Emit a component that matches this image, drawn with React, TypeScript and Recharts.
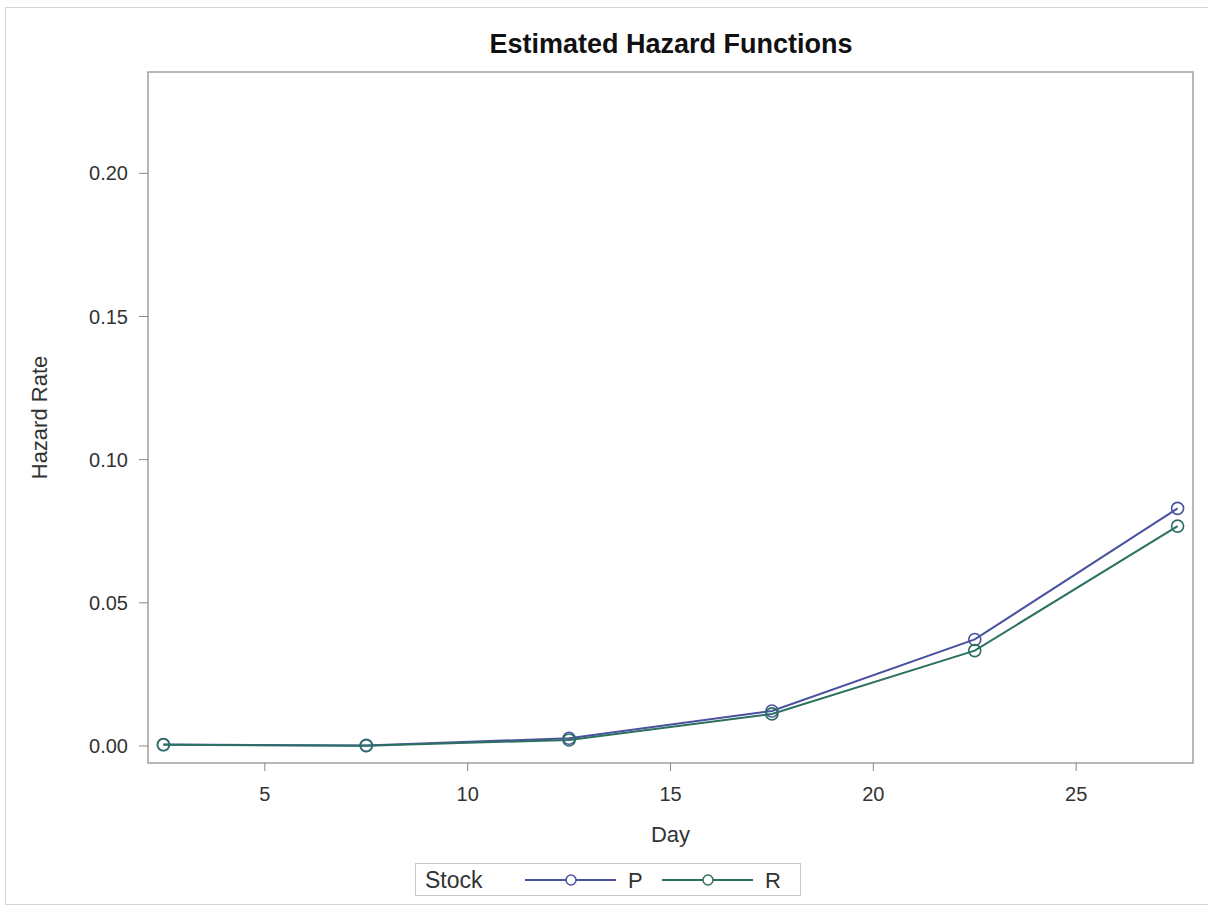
import React from "react";
import {
  LineChart,
  Line,
  XAxis,
  YAxis,
  Legend,
  ReferenceArea,
  Label,
} from "recharts";

const days = [2.5, 7.5, 12.5, 17.5, 22.5, 27.5];
const hazardP = [0.0005, 0.0002, 0.0027, 0.0122, 0.0372, 0.083];
const hazardR = [0.0004, 0.0001, 0.0021, 0.0112, 0.0333, 0.0768];
const xTicks = [5, 10, 15, 20, 25];
const yTicks = [0, 0.05, 0.1, 0.15, 0.2];
const seriesNames = ["P", "R"];
const seriesColors = ["#4a52a0", "#2b7060"];

const data = days.map((d, i) => ({ day: d, P: hazardP[i], R: hazardR[i] }));

const X_DOMAIN: [number, number] = [2.12, 27.88];
const Y_DOMAIN: [number, number] = [-0.00595, 0.2354];

const FONT = "'Liberation Sans', Arial, sans-serif";

const Dot = (props: any) => {
  const { cx, cy, stroke } = props;
  if (cx == null || cy == null) return null;
  return <circle cx={cx} cy={cy} r={6} fill="none" stroke={stroke} strokeWidth={1.6} />;
};

const LegendContent = () => {
  return (
    <svg width={386} height={33} style={{ display: "block" }}>
      <rect x={0.5} y={0.5} width={385} height={32} fill="#fff" stroke="#c8c8c8" />
      <text x={10} y={25} fontFamily={FONT} fontSize={23} fill="#333">Stock</text>
      {seriesNames.map((n, i) => {
        const x0 = 110 + i * 137;
        return (
          <g key={n}>
            <line x1={x0} x2={x0 + 91} y1={17} y2={17} stroke={seriesColors[i]} strokeWidth={2} />
            <circle cx={x0 + 46} cy={17} r={5} fill="#fff" stroke={seriesColors[i]} strokeWidth={1.5} />
            <text x={x0 + 103} y={25} fontFamily={FONT} fontSize={22} fill="#333">{n}</text>
          </g>
        );
      })}
    </svg>
  );
};

export default function App() {
  return (
    <div style={{ position: "absolute", left: 0, top: 0, width: 1208, height: 911, background: "#fff" }}>
      <div
        style={{
          position: "absolute",
          left: 5,
          top: 7,
          width: 1204,
          height: 898,
          border: "1px solid #d4d4d4",
          boxSizing: "border-box",
        }}
      />
      <div
        style={{
          position: "absolute",
          left: 0,
          top: 29,
          width: 1342,
          textAlign: "center",
          fontFamily: FONT,
          fontWeight: "bold",
          fontSize: 27,
          lineHeight: "31px",
          color: "#111",
        }}
      >
        Estimated Hazard Functions
      </div>
      <div style={{ position: "absolute", left: 0, top: 0 }}>
        <LineChart
          width={1208}
          height={911}
          data={data}
          margin={{ top: 72, right: 15, left: 0, bottom: 0 }}
        >
          <ReferenceArea
            x1={X_DOMAIN[0]}
            x2={X_DOMAIN[1]}
            y1={Y_DOMAIN[0]}
            y2={Y_DOMAIN[1]}
            fill="none"
            stroke="#a0a0a0"
            strokeWidth={1.5}
            ifOverflow="visible"
          />
          <XAxis
            dataKey="day"
            type="number"
            domain={X_DOMAIN}
            ticks={xTicks}
            allowDataOverflow
            height={115}
            axisLine={false}
            tickLine={{ stroke: "#888" }}
            tickSize={8}
            tickMargin={16}
            tick={{ fill: "#333", fontSize: 20, fontFamily: FONT }}
          >
            <Label
              value="Day"
              position="insideTop"
              offset={63}
              style={{ fill: "#333", fontSize: 22, fontFamily: FONT }}
            />
          </XAxis>
          <YAxis
            type="number"
            domain={Y_DOMAIN}
            ticks={yTicks}
            allowDataOverflow
            width={148}
            axisLine={false}
            tickLine={{ stroke: "#888" }}
            tickSize={9}
            tickMargin={11}
            tickFormatter={(v: number) => v.toFixed(2)}
            tick={{ fill: "#333", fontSize: 20, fontFamily: FONT }}
          >
            <Label
              value="Hazard Rate"
              angle={-90}
              position="insideLeft"
              offset={39}
              style={{ fill: "#333", fontSize: 22, fontFamily: FONT, textAnchor: "middle" }}
            />
          </YAxis>
          {seriesNames.map((n, i) => (
            <Line
              key={n}
              dataKey={n}
              name={n}
              type="linear"
              stroke={seriesColors[i]}
              strokeWidth={2}
              dot={<Dot />}
              activeDot={false}
              isAnimationActive={false}
            />
          ))}
          <Legend
            content={<LegendContent />}
            wrapperStyle={{ position: "absolute", left: 415, top: 863, width: 386, bottom: "auto" }}
          />
        </LineChart>
      </div>
    </div>
  );
}
